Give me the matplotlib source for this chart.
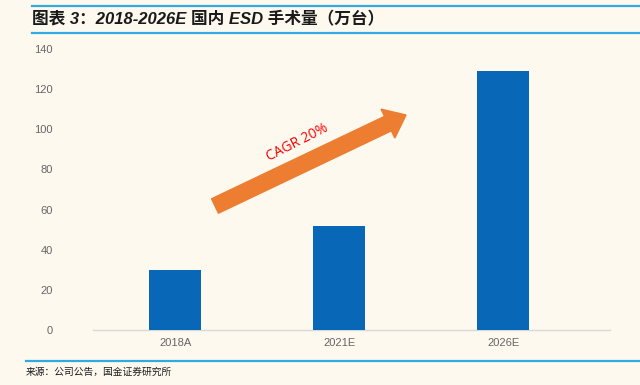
import matplotlib.pyplot as plt
import matplotlib.patches as mpatches
from matplotlib.transforms import IdentityTransform
import numpy as np

plt.rcParams['font.family'] = ['Liberation Sans', 'Noto Sans CJK SC', 'DejaVu Sans']

categories = ['2018A', '2021E', '2026E']
volumes = [30, 52, 129]
y_ticks = [0, 20, 40, 60, 80, 100, 120, 140]

BG = '#FDF9EF'
BAR = '#0867B7'
LINE = '#33A9E1'
ORANGE = '#ED7D31'

W, H = 640, 385
fig = plt.figure(figsize=(W / 100, H / 100), dpi=100, facecolor=BG)
ax = fig.add_axes([93 / W, 1 - 330 / H, (610 - 93) / W, (330 - 49) / H])
ax.set_facecolor(BG)

x = np.arange(len(categories))
ax.bar(x, volumes, width=0.317, color=BAR, zorder=3)

ax.set_xlim(-0.5, 2.65)
ax.set_ylim(0, 140)
ax.set_xticks(x)
ax.set_xticklabels(categories)
ax.set_yticks(y_ticks)
ax.tick_params(axis='y', length=0, pad=29, labelsize=8, labelcolor='#666666')
ax.tick_params(axis='x', length=0, pad=6, labelsize=8, labelcolor='#666666')
for s in ['top', 'right', 'left']:
    ax.spines[s].set_visible(False)
ax.spines['bottom'].set_color('#D9D9D9')
ax.spines['bottom'].set_linewidth(1)

# header / footer rules
def hline(ypix, x0):
    fig.add_artist(plt.Line2D([x0 / W, 1], [1 - ypix / H, 1 - ypix / H],
                              color=LINE, lw=1.6, transform=fig.transFigure))

hline(5.7, 32)
hline(33, 32)
hline(361, 26)

fig.text(32 / W, 1 - 19 / H, '图表 3：2018-2026E 国内 ESD 手术量（万台）',
         fontsize=12, fontweight='bold', fontstyle='italic',
         va='center', ha='left', color='#1a1a1a')
fig.text(26 / W, 1 - 371.5 / H, '来源：公司公告，国金证券研究所',
         fontsize=7, va='center', ha='left', color='#1a1a1a')

# CAGR arrow (display pixels, origin bottom-left)
x0, y0 = 215, H - 206
x1, y1 = 406, H - 115
arrow = mpatches.FancyArrow(x0, y0, x1 - x0, y1 - y0, width=16, head_width=32,
                            head_length=20, length_includes_head=True,
                            color=ORANGE, transform=IdentityTransform())
fig.add_artist(arrow)
fig.text(297 / W, 1 - 143 / H, 'CAGR 20%', rotation=27, color='#FF0000',
         fontsize=10, family=['Open Sans', 'DejaVu Sans'],
         ha='center', va='center')

fig.savefig('out.png', dpi=100, facecolor=BG)
